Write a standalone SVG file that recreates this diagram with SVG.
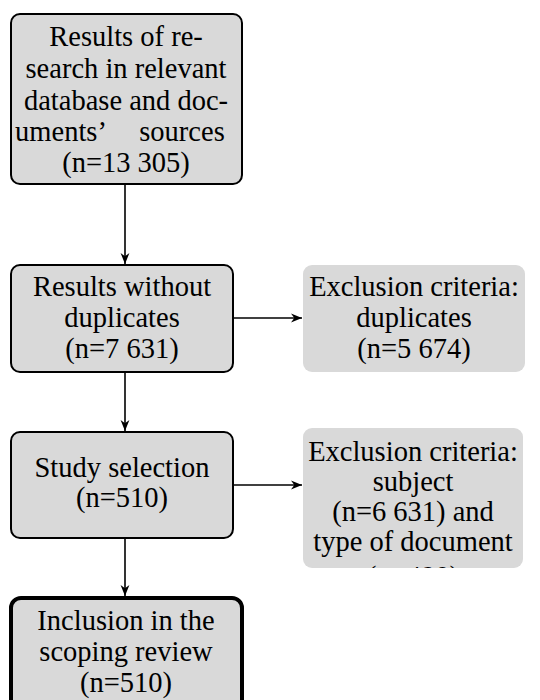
<svg xmlns="http://www.w3.org/2000/svg" width="540" height="700" viewBox="0 0 540 700">
<defs>
<style>
.box{fill:#d9d9d9;stroke:#000;stroke-width:2}
.excl{fill:#d9d9d9;stroke:none}
.final{fill:#d9d9d9;stroke:#000;stroke-width:4}
text{font-family:"Liberation Serif","Times New Roman",serif;font-size:28.5px;fill:#000;text-anchor:middle}
.con{stroke:#000;stroke-width:1.6;fill:none;marker-end:url(#ah)}
</style>
<marker id="ah" viewBox="0 0 10 10" refX="10" refY="5" markerWidth="11" markerHeight="11" markerUnits="userSpaceOnUse" orient="auto">
<path d="M0,1 L10,5 L0,9 L3,5 Z" fill="#000"/>
</marker>
<clipPath id="clipEx2"><rect x="303" y="428" width="220" height="140" rx="9"/></clipPath>
</defs>
<g id="connectors">
<line class="con" x1="125" y1="184" x2="125" y2="264"/>
<line class="con" x1="125" y1="372" x2="125" y2="431"/>
<line class="con" x1="125" y1="538" x2="125" y2="596"/>
<line class="con" x1="234" y1="318" x2="302" y2="318"/>
<line class="con" x1="234" y1="485" x2="302" y2="485"/>
</g>
<g id="n1">
<rect class="box" x="11" y="14" width="231" height="170" rx="9"/>
<text x="126" y="46">Results of re-</text>
<text x="126" y="78">search in relevant</text>
<text x="126" y="110">database and doc-</text>
<text y="141"><tspan x="61">uments’</tspan><tspan x="182">sources</tspan></text>
<text x="126" y="172">(n=13 305)</text>
</g>
<g id="n2">
<rect class="box" x="11" y="265" width="222" height="107" rx="9"/>
<text x="122" y="296">Results without</text>
<text x="122" y="327">duplicates</text>
<text x="122" y="358">(n=7 631)</text>
</g>
<g id="e1">
<rect class="excl" x="303" y="265" width="222" height="107" rx="9"/>
<text x="414" y="296">Exclusion criteria:</text>
<text x="414" y="327">duplicates</text>
<text x="414" y="358">(n=5 674)</text>
</g>
<g id="n3">
<rect class="box" x="11" y="432" width="222" height="106" rx="9"/>
<text x="122" y="477">Study selection</text>
<text x="122" y="507">(n=510)</text>
</g>
<g id="e2">
<rect class="excl" x="303" y="428" width="220" height="140" rx="9"/>
<g clip-path="url(#clipEx2)">
<text x="413" y="461">Exclusion criteria:</text>
<text x="413" y="491">subject</text>
<text x="413" y="521">(n=6 631) and</text>
<text x="413" y="551">type of document</text>
<text x="413" y="586">(n=490)</text>
</g>
</g>
<g id="n4">
<rect class="final" x="11" y="598" width="231" height="120" rx="10"/>
<text x="126" y="630">Inclusion in the</text>
<text x="126" y="661">scoping review</text>
<text x="126" y="692">(n=510)</text>
</g>
</svg>
